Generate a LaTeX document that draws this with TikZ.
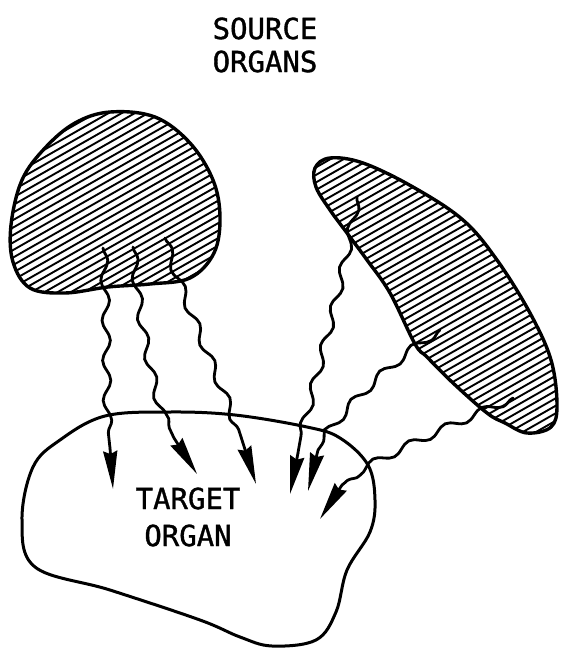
\documentclass[tikz,border=0pt]{standalone}
\usepackage{fontspec}
\newfontfamily\letterfont[FakeBold=1.2]{DejaVu Sans Mono}
\usetikzlibrary{arrows.meta,decorations.pathmorphing}

\tikzset{every picture/.style={line width=0.75pt}}
\tikzset{
  organ/.style={line width=3.4pt, line join=round},
  hatch/.style={line width=1.9pt},
  wave/.style={line width=2.8pt, line cap=round, decorate,
    decoration={snake, segment length=40pt, amplitude=4pt, post length=3pt}},
  head/.style={line width=2.8pt, -{Stealth[length=38pt,width=14pt,inset=3pt]}},
  lettering/.style={font=\letterfont\fontsize{29}{33}\selectfont, align=center, inner sep=0pt}
}

\begin{document}
\begin{tikzpicture}[x=1pt,y=1pt,yscale=-1]
\useasboundingbox (0,0) rectangle (560,648);

%Shape: Source organ, left (hatched)
\draw[organ, path picture={\foreach \c in {100,107.5,...,800} \draw[hatch] (0,\c) -- (600,\c-342);}]
  plot[smooth cycle, tension=0.6] coordinates {(110,112) (155,117) (190,143) (213,180) (220,217) (214,253) (190,278) (150,284) (108,287) (65,293) (30,288) (13,262) (11,225) (22,180) (45,148) (75,123)};

%Shape: Source organ, right (hatched)
\draw[organ, path picture={\foreach \c in {100,107.5,...,800} \draw[hatch] (0,\c) -- (600,\c-342);}]
  plot[smooth cycle, tension=0.6] coordinates {(315,168) (330,158) (363,163) (413,187) (463,220) (497,260) (530,313) (551,360) (557,405) (551,427) (527,433) (505,423) (487,413) (453,383) (427,357) (415,344) (390,293) (367,260) (347,233) (330,210) (316,187)};

%Shape: Target organ
\draw[organ, line width=3pt]
  plot[smooth cycle, tension=0.6] coordinates {(105,416) (170,412) (235,415) (307,427) (340,438) (368,465) (375,500) (370,532) (347,570) (336,612) (316,640) (272,646) (240,637) (200,620) (110,590) (35,567) (22,520) (33,467) (60,440)};

%Points where the rays start, bend into a head, and end
\coordinate (s1) at (103,248);  \coordinate (b1) at (110,448);  \coordinate (t1) at (113,489);
\coordinate (s2) at (133,247);  \coordinate (b2) at (174,438);  \coordinate (t2) at (197,474);
\coordinate (s3) at (165,238);  \coordinate (b3) at (242,440);  \coordinate (t3) at (256,484);
\coordinate (s4) at (357,197);  \coordinate (b4) at (298,453);  \coordinate (t4) at (290,494);
\coordinate (s5) at (440,330);  \coordinate (b5) at (318,450);  \coordinate (t5) at (308,491);
\coordinate (s6) at (513,398);  \coordinate (b6) at (342,485);  \coordinate (t6) at (320,519);

%Curve Lines: rays
\draw[wave] (s1) .. controls (108,330) and (104,400) .. (b1);
\draw[wave] (s2) .. controls (140,330) and (160,410) .. (b2);
\draw[wave] (s3) .. controls (180,290) and (228,395) .. (b3);
\draw[wave] (s4) .. controls (340,300) and (306,400) .. (b4);
\draw[wave] (s5) .. controls (380,370) and (340,420) .. (b5);
\draw[wave] (s6) .. controls (440,430) and (370,462) .. (b6);

%Arrow heads
\draw[head] (b1) -- (t1);
\draw[head] (b2) -- (t2);
\draw[head] (b3) -- (t3);
\draw[head] (b4) -- (t4);
\draw[head] (b5) -- (t5);
\draw[head] (b6) -- (t6);

% Text Node
\node[lettering] (source) at (265,45) {SOURCE\\ORGANS};
% Text Node
\node[lettering, font=\letterfont\fontsize{29}{37}\selectfont] (target) at (188,517) {TARGET\\ORGAN};

\end{tikzpicture}
\end{document}
